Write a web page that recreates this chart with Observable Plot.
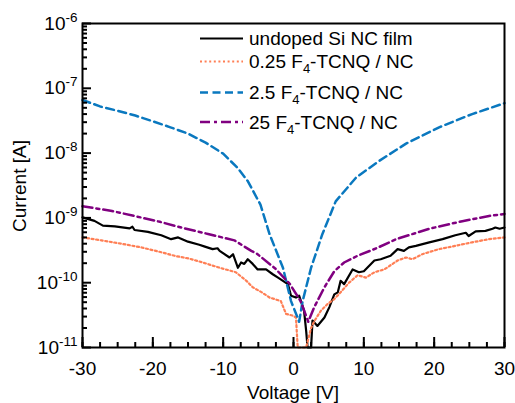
<!DOCTYPE html>
<html><head><meta charset="utf-8">
<script src="https://cdn.jsdelivr.net/npm/d3@7"></script>
<script src="https://cdn.jsdelivr.net/npm/@observablehq/plot@0.6"></script>
<style>body{margin:0;background:#fff}</style>
</head><body><div id="chart"></div>
<script>
// ---- data (Voltage [V], Current [A]); 1e-11 = at/below the bottom of the axis ----
const undopedV = [-30,-28.3,-27.1,-25.4,-23.3,-22.9,-22.6,-20.7,-18.8,-17.4,-16.4,-15,-13.4,-12.6,-11.5,-10.8,-10.5,-9.1,-8.6,-7.9,-7.45,-7,-6.5,-5.8,-5.1,-3.9,-2.95,-2.2,-1.5,-0.8,-0.35,0.35,0.8,1.5,1.8,2.0,2.5,2.7,3.4,4.4,5.1,5.8,6.3,6.7,7.2,8.4,9.3,10,11.5,12.4,13.8,14.8,15.7,16.4,17.4,19.3,21.2,23,24.5,24.9,25.9,27.3,28.3,28.7,29.3,30];
const undopedI = [1.02e-9,9.0e-10,7.6e-10,7.4e-10,6.9e-10,7.3e-10,6.5e-10,6.1e-10,5.4e-10,4.7e-10,5.0e-10,4.3e-10,3.85e-10,3.6e-10,3.3e-10,3.4e-10,3.1e-10,2.45e-10,2.75e-10,1.7e-10,2.05e-10,1.95e-10,2.3e-10,1.95e-10,1.6e-10,1.6e-10,1.35e-10,1.2e-10,1.07e-10,9.5e-11,6.3e-11,5.9e-11,6.3e-11,3.7e-11,1.8e-11,1e-11,1e-11,2.6e-11,2.15e-11,2.9e-11,4.2e-11,6.6e-11,7.1e-11,1.07e-10,9.5e-11,1.6e-10,1.45e-10,1.5e-10,2.2e-10,2.3e-10,2.6e-10,3.3e-10,3.1e-10,3.5e-10,3.7e-10,4.2e-10,4.7e-10,5.4e-10,5.9e-10,5.25e-10,6.2e-10,6.3e-10,6.8e-10,7.1e-10,6.8e-10,7.1e-10];

const d025V = [-30,-27.3,-24.5,-21.6,-18.8,-16.9,-14.8,-12.9,-10.5,-8.2,-6.7,-5.8,-4.5,-3.4,-1.8,-1.06,-0.1,0.35,0.6,1.8,2.5,3.0,3.9,4.85,5.8,6.7,7.9,9.1,10.3,11.5,12.9,14.8,16.0,16.9,18.3,20.7,23.0,25.4,27.8,30];
const d025I = [5.0e-10,4.5e-10,4.0e-10,3.5e-10,2.95e-10,2.6e-10,2.35e-10,2.05e-10,1.7e-10,1.45e-10,1.07e-10,8.5e-11,7.1e-11,5.9e-11,5.2e-11,3.3e-11,3.1e-11,2.9e-11,1e-11,1e-11,2.0e-11,2.6e-11,3.7e-11,4.7e-11,5.6e-11,7.1e-11,1.0e-10,1.3e-10,1.2e-10,1.45e-10,1.6e-10,2.2e-10,2.45e-10,2.3e-10,2.75e-10,3.3e-10,3.7e-10,4.2e-10,4.7e-10,5.0e-10];

const d25V = [-30,-27.5,-25,-22.5,-20,-17.5,-15,-12.5,-10,-8,-6.5,-4.7,-3.4,-1.5,-0.35,0.8,1.3,2.5,4.1,6.0,8.9,12.2,16.0,20.7,25.4,30];
const d25I = [6.6e-8,5.25e-8,4.5e-8,3.8e-8,3.1e-8,2.5e-8,2.0e-8,1.45e-8,9.8e-9,6.0e-9,3.7e-9,1.6e-9,5.6e-10,1.7e-10,5.2e-11,2.5e-11,5.2e-11,1.7e-10,5.6e-10,1.8e-9,4.2e-9,7.6e-9,1.4e-8,2.5e-8,4.0e-8,5.9e-8];

const d250V = [-30,-26,-22.6,-19,-15.5,-12,-8.4,-6,-5.2,-2.6,-0.5,1.0,2.1,2.95,4.4,5.8,7.2,9.1,11.8,14.6,19.3,24,27.8,30];
const d250I = [1.51e-9,1.29e-9,1.07e-9,8.7e-10,6.9e-10,5.6e-10,4.5e-10,3.1e-10,2.8e-10,1.66e-10,9.5e-11,5.2e-11,2.5e-11,4.2e-11,8.5e-11,1.5e-10,2.05e-10,2.6e-10,3.4e-10,4.7e-10,6.8e-10,8.9e-10,1.07e-9,1.15e-9];

const seriesNames = ["undoped Si NC film","0.25 F4-TCNQ / NC","2.5 F4-TCNQ / NC","25 F4-TCNQ / NC"];
const seriesPrefix = ["undoped Si NC film","0.25 F","2.5 F","25 F"];
const seriesColors = ["#000000","#ff7f55","#0a78bf","#800080"];
const seriesDash = [null,"2,2.6","8,4.5","10,4,3,4"];
const seriesWidth = [2.2,2.2,2.5,2.5];

const xTicks = [-30,-20,-10,0,10,20,30];
const xTickLabels = ["-30","-20","-10","0","10","20","30"];
const yTicks = [1e-11,1e-10,1e-9,1e-8,1e-7,1e-6];
const yTickExp = ["-11","-10","-9","-8","-7","-6"];

const xMinor = d3.range(-30, 30.01, 2.5);
const yMinor = [];
for (let e = -11; e < -6; e++) for (let m = 2; m <= 9; m++) yMinor.push(m * Math.pow(10, e));

const seriesV = [undopedV, d025V, d25V, d250V];
const seriesI = [undopedI, d025I, d25I, d250I];
const rows = seriesNames.flatMap((name, k) => seriesV[k].map((v, i) => ({series: name, k, V: v, I: seriesI[k][i]})));

const W = 515, H = 403, ML = 82, MR = 11, MT = 23, MB = 56;
const pw = W - ML - MR, ph = H - MT - MB;
const FONT = "Liberation Sans, Arial, Helvetica, sans-serif";

const lineMarks = seriesNames.map((name, k) => Plot.line(rows.filter(r => r.k === k), {
  x: "V", y: "I", stroke: seriesColors[k], strokeWidth: seriesWidth[k],
  strokeDasharray: seriesDash[k] || undefined, strokeLinejoin: "round"
}));
const noText = () => "";

const svg = Plot.plot({
  width: W, height: H, marginLeft: ML, marginRight: MR, marginTop: MT, marginBottom: MB,
  style: {fontFamily: FONT, fontSize: "19px", color: "black", background: "white"},
  x: {domain: [-30, 30]},
  y: {type: "log", domain: [1e-11, 1e-6]},
  marks: [
    ...lineMarks,
    Plot.frame({stroke: "#000", strokeWidth: 2}),
    Plot.axisX(xMinor, {anchor: "bottom", tickSize: -5, strokeWidth: 2, tickFormat: noText, label: null}),
    Plot.axisX(xTicks, {anchor: "bottom", tickSize: -10, strokeWidth: 2, tickFormat: noText, label: null}),
    Plot.axisX(xTicks, {anchor: "bottom", tickSize: 0, tickPadding: 14, tickFormat: d => xTickLabels[xTicks.indexOf(d)], label: null}),
    Plot.axisY(yMinor, {anchor: "left", tickSize: -5, strokeWidth: 2, tickFormat: noText, label: null}),
    Plot.axisY(yTicks, {anchor: "left", tickSize: -9, strokeWidth: 2, tickFormat: noText, label: null}),
    Plot.axisY(yTicks, {anchor: "left", tickSize: 0, tickPadding: 5, tickFormat: d => "10^" + yTickExp[yTicks.findIndex(t => Math.abs(t - d) / t < 1e-6)], label: null})
  ]
});

const s = d3.select(svg);
s.selectAll("text").filter(function() { return this.textContent === ""; }).remove();
s.selectAll("text").each(function() {
  const t = this.textContent;
  const m = t.match(/^10\^(.+)$/);
  if (m) {
    const el = d3.select(this);
    el.text(null);
    el.append("tspan").text("10");
    el.append("tspan").attr("dy", "-8").attr("font-size", "13.5px").text(m[1]);
  }
});

s.append("text").attr("x", ML + pw / 2).attr("y", 399).attr("text-anchor", "middle")
  .attr("font-family", FONT).attr("font-size", "19px").attr("fill", "black").text("Voltage [V]");
s.append("text").attr("transform", "translate(26,186) rotate(-90)").attr("text-anchor", "middle")
  .attr("font-family", FONT).attr("font-size", "19px").attr("fill", "black").text("Current [A]");

const legLineY = [38.5, 61.5, 92.5, 122];
const legTextY = [45, 68, 99, 129];
const lg = s.append("g").attr("font-family", FONT).attr("font-size", "19px").attr("text-anchor", "start");
seriesNames.forEach((name, k) => {
  lg.append("line").attr("x1", 200).attr("x2", 243).attr("y1", legLineY[k]).attr("y2", legLineY[k])
    .attr("stroke", seriesColors[k]).attr("stroke-width", seriesWidth[k])
    .attr("stroke-dasharray", seriesDash[k]);
  const t = lg.append("text").attr("x", 249).attr("y", legTextY[k]).attr("fill", "black").attr("text-anchor", "start");
  if (k === 0) { t.text(name); }
  else {
    t.append("tspan").text(seriesPrefix[k]);
    t.append("tspan").attr("dy", "5").attr("font-size", "13px").text("4");
    t.append("tspan").attr("dy", "-5").text("-TCNQ / NC");
  }
});

document.getElementById("chart").appendChild(svg);
</script>
</body></html>
